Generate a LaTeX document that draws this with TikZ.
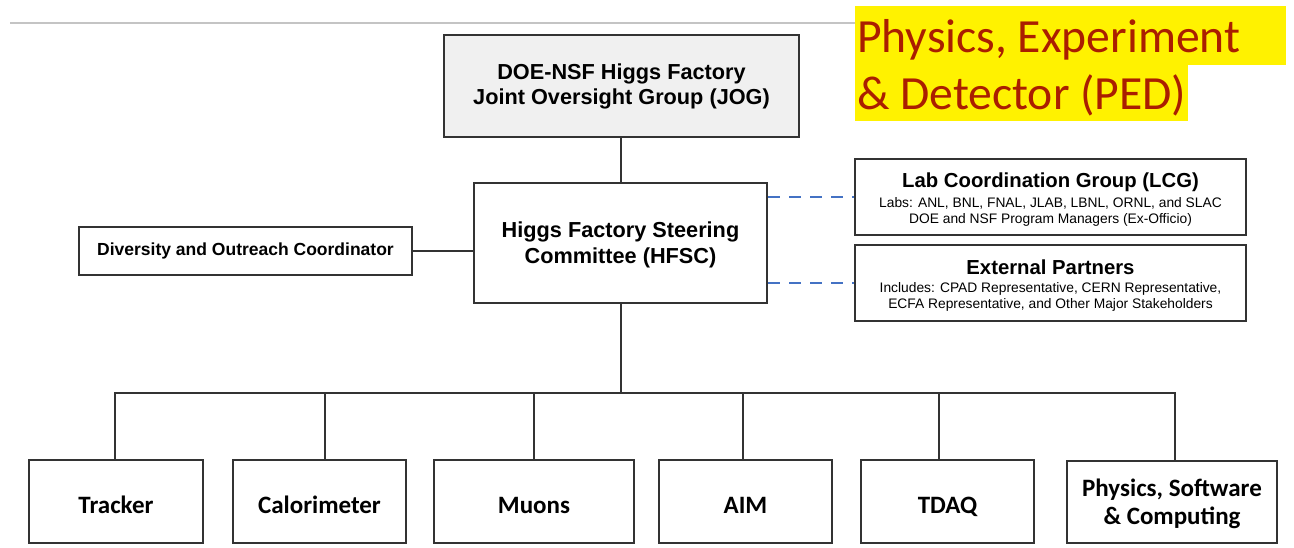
\documentclass[tikz,border=0pt]{standalone}
\usepackage{fontspec}
\setmainfont{Liberation Sans}
\newfontfamily\calib{Carlito}
\definecolor{boxline}{HTML}{333333}
\definecolor{jogfill}{HTML}{F0F0F0}
\definecolor{dashblue}{HTML}{4472C4}
\definecolor{pedred}{RGB}{170,30,0}
\definecolor{topline}{HTML}{C4C4C4}
\tikzset{
  orgbox/.style={draw=boxline, line width=2pt, inner sep=0pt, align=center, text=black},
  conn/.style={draw=boxline, line width=2pt},
  dashconn/.style={draw=dashblue, line width=2.5pt, dash pattern=on 12pt off 9pt},
  topfont/.style={font=\bfseries\fontsize{21.7}{25}\selectfont},
  botfont/.style={font=\calib\bfseries\fontsize{25}{28}\selectfont},
  onebot/.style={text height=23pt, text depth=0pt},
  pedtext/.style={font=\calib\fontsize{47.6}{56}\selectfont, text=pedred, inner sep=0pt, anchor=base west},
}
\begin{document}
\begin{tikzpicture}[x=1pt,y=-1pt]
\useasboundingbox (0,0) rectangle (1294,547);
% top rule and title highlight
\draw[topline, line width=1.5pt] (10,23) -- (1286,23);
\fill[yellow] (855,6) rectangle (1286,65);
\fill[yellow] (855,65) rectangle (1188,121);
\node[pedtext] (ped1) at (857,52) {Physics, Experiment};
\node[pedtext] (ped2) at (857,109) {\& Detector (PED)};

% upper boxes
\node[orgbox, topfont, fill=jogfill, minimum width=355pt, minimum height=102pt] (jog) at (621.5,86)
  {DOE-NSF Higgs Factory\\Joint Oversight Group (JOG)};
\node[orgbox, topfont, minimum width=293pt, minimum height=120pt, text depth=0pt] (hfsc) at (620.5,243)
  {Higgs Factory Steering\\[1pt]Committee (HFSC)};
\node[orgbox, font=\bfseries\fontsize{17.5}{20}\selectfont, minimum width=333pt, minimum height=48pt] (div) at (245.5,251)
  {Diversity and Outreach Coordinator};

\node[orgbox, minimum width=391pt, minimum height=76pt] (lcg) at (1050.5,197) {};
\node[font=\bfseries\fontsize{20.3}{22}\selectfont, inner sep=0pt] (lcgt) at (1050.5,182) {Lab Coordination Group (LCG)};
\node[font=\fontsize{13.8}{16}\selectfont, align=center, inner sep=0pt, anchor=north] (lcgb) at (1050.5,197)
  {Labs: ANL, BNL, FNAL, JLAB, LBNL, ORNL, and SLAC\\DOE and NSF Program Managers (Ex-Officio)};

\node[orgbox, minimum width=391pt, minimum height=76pt] (ext) at (1050.5,283) {};
\node[font=\bfseries\fontsize{20.3}{22}\selectfont, inner sep=0pt] (extt) at (1050.5,267) {External Partners};
\node[font=\fontsize{13.8}{16}\selectfont, align=center, inner sep=0pt, anchor=north] (extb) at (1050.5,282)
  {Includes: CPAD Representative, CERN Representative,\\ECFA Representative, and Other Major Stakeholders};

% bottom boxes
\node[orgbox, botfont, onebot, minimum width=174pt, minimum height=83pt] (tracker) at (116,501.5) {Tracker};
\node[orgbox, botfont, onebot, minimum width=173pt, minimum height=83pt] (calo) at (319.5,501.5) {Calorimeter};
\node[orgbox, botfont, onebot, minimum width=200pt, minimum height=83pt] (muons) at (534,501.5) {Muons};
\node[orgbox, botfont, onebot, minimum width=173pt, minimum height=83pt] (aim) at (745.5,501.5) {AIM};
\node[orgbox, botfont, onebot, minimum width=173pt, minimum height=83pt] (tdaq) at (947.5,501.5) {TDAQ};
\node[orgbox, botfont, text depth=-1pt, minimum width=210pt, minimum height=82pt] (psc) at (1172,502) {Physics, Software\\\& Computing};

% connectors
\coordinate (bus) at (620.5,393);
\draw[conn] (hfsc.north) -- (hfsc.north |- jog.south);
\draw[conn] (hfsc.south) -- (hfsc.south |- bus);
\draw[conn] (div.east) -- (div.east -| hfsc.west);
\draw[conn] ([xshift=-1.5pt]tracker.north) |- (bus);
\draw[conn] ([xshift=5pt]calo.north) |- (bus);
\draw[conn] (muons.north) |- (bus);
\draw[conn] ([xshift=-2.5pt]aim.north) |- (bus);
\draw[conn] ([xshift=-8.5pt]tdaq.north) |- (bus);
\draw[conn] ([xshift=3pt]psc.north) |- (bus);
\draw[dashconn] ([yshift=46pt]hfsc.east) -- ([yshift=46pt]hfsc.east -| lcg.west);
\draw[dashconn] ([yshift=-40pt]hfsc.east) -- ([yshift=-40pt]hfsc.east -| ext.west);
\end{tikzpicture}
\end{document}
